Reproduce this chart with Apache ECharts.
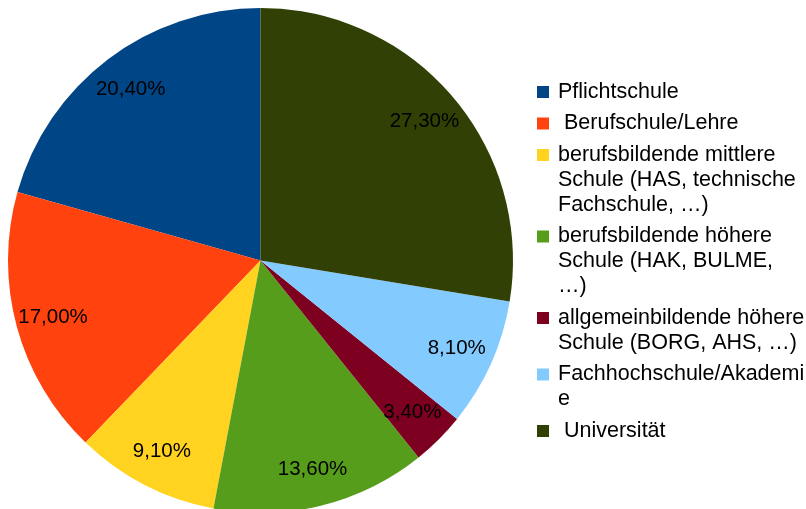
<!DOCTYPE html>
<html>
<head>
<meta charset="utf-8">
<script src="https://cdn.jsdelivr.net/npm/echarts@6/dist/echarts.min.js"></script>
<style>
  html, body { margin: 0; padding: 0; background: #fff; }
  #chart { width: 806px; height: 509px; }
</style>
</head>
<body>
<div id="chart"></div>
<script>
// Kategorien (Reihenfolge wie in der Legende)
const categories = [
  'Pflichtschule',
  ' Berufschule/Lehre',
  'berufsbildende mittlere Schule (HAS, technische Fachschule, …)',
  'berufsbildende höhere Schule (HAK, BULME, …)',
  'allgemeinbildende höhere Schule (BORG, AHS, …)',
  'Fachhochschule/Akademie',
  ' Universität'
]
// Zeilenumbrüche der Legende wie im Original
const legendLines = [
  ['Pflichtschule'],
  [' Berufschule/Lehre'],
  ['berufsbildende mittlere', 'Schule (HAS, technische', 'Fachschule, …)'],
  ['berufsbildende höhere', 'Schule (HAK, BULME,', '…)'],
  ['allgemeinbildende höhere', 'Schule (BORG, AHS, …)'],
  ['Fachhochschule/Akademi', 'e'],
  [' Universität']
]
const shares = [20.4, 17.0, 9.1, 13.6, 3.4, 8.1, 27.3]
const colors = ['#004586', '#ff420e', '#ffd320', '#579d1c', '#7e0021', '#83caff', '#314004']

const chart = echarts.init(document.getElementById('chart'))

// Rich-Text-Stile für die Legende (Farbquadrat in der ersten Zeile)
const rich = {
  gap: { width: 9, lineHeight: 25 },
  ind: { width: 21, lineHeight: 25 },
  txt: { fontSize: 21.5, lineHeight: 25, color: '#000', fontFamily: 'Liberation Sans' }
}
colors.forEach((c, i) => {
  rich['sq' + i] = { width: 12, height: 12, backgroundColor: c, lineHeight: 25 }
})

const pieData = categories.map((name, i) => ({
  name,
  value: shares[i],
  itemStyle: { color: colors[i] }
}))

const option = {
  animation: false,
  legend: {
    orient: 'vertical',
    left: 531,
    top: 79.5,
    padding: 0,
    itemGap: 6.5,
    icon: 'none',
    itemWidth: 1,
    itemHeight: 1,
    selectedMode: false,
    data: categories,
    textStyle: { rich, fontFamily: 'Liberation Sans', fontSize: 21.5, lineHeight: 25 },
    formatter: name => {
      const i = categories.indexOf(name)
      return legendLines[i]
        .map((ln, k) => (k === 0 ? `{sq${i}|}{gap|}` : '{ind|}') + `{txt|${ln}}`)
        .join('\n')
    }
  },
  series: [
    {
      type: 'pie',
      center: [260.5, 260.5],
      radius: [0, 252.5],
      startAngle: 90,
      clockwise: false,
      label: { show: false },
      labelLine: { show: false },
      itemStyle: { borderWidth: 0 },
      emphasis: { disabled: true },
      data: pieData
    },
    {
      // unsichtbarer Ring nur für die Prozentbeschriftung
      type: 'pie',
      center: [260.5, 260.5],
      radius: [190, 234],
      startAngle: 90,
      clockwise: false,
      silent: true,
      itemStyle: { color: 'rgba(0,0,0,0)', borderWidth: 0 },
      emphasis: { disabled: true },
      labelLine: { show: false },
      label: {
        show: true,
        position: 'inside',
        color: '#000',
        fontSize: 20.5,
        fontFamily: 'Liberation Sans',
        formatter: p => p.value.toFixed(2).replace('.', ',') + '%'
      },
      data: categories.map((name, i) => ({ name, value: shares[i] }))
    }
  ]
}

chart.setOption(option)
window.addEventListener('resize', () => chart.resize())
</script>
</body>
</html>
